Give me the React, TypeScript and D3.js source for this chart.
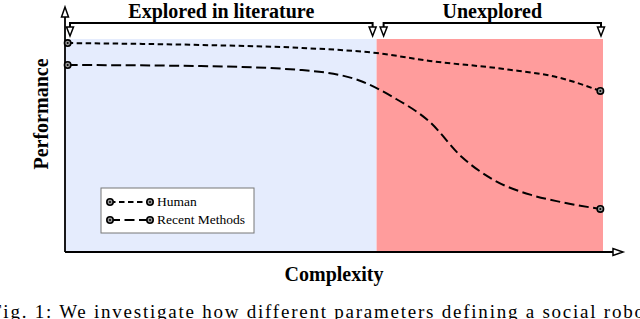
import React from "react";
import * as d3 from "d3";

// complexity (0-100) vs performance (0-100)
const humanX = [0, 25, 44, 58, 68, 82, 92.5, 100];
const humanPerf = [98.1, 97.2, 95.8, 93.4, 89.7, 85.9, 81.7, 75.6];
const recentX = [0, 25, 44, 55, 61, 68, 74, 80, 87, 92.5, 100];
const recentPerf = [87.8, 87.3, 85.4, 80.3, 72.8, 61.0, 44.6, 33.8, 26.8, 23.5, 20.2];

const regions = ["Explored in literature", "Unexplored"];
const regionBounds = [[-0.5, 58], [58, 100.5]];
const regionColors = ["#e5ecfd", "#ff9c9c"];
const seriesNames = ["Human", "Recent Methods"];
const seriesDash = ["5.5,3.5", "10,4.5"];

const W = 640;
const H = 319;
const serif =
  "'Times New Roman', Times, 'Liberation Serif', 'Nimbus Roman', 'Nimbus Roman No9 L', Tinos, 'DejaVu Serif', serif";

const App = () => {
  const x = d3.scaleLinear([-0.5, 100.5], [65, 603]);
  const y = d3.scaleLinear([0, 100], [252, 39]);
  const line = d3
    .line<[number, number]>()
    .x((d) => x(d[0]))
    .y((d) => y(d[1]))
    .curve(d3.curveMonotoneX);

  const series = [
    humanX.map((v, i) => [v, humanPerf[i]] as [number, number]),
    recentX.map((v, i) => [v, recentPerf[i]] as [number, number]),
  ];

  const marker = (cx: number, cy: number, key: string) => (
    <g key={key}>
      <circle cx={cx} cy={cy} r={3.2} fill="#999" stroke="#000" strokeWidth={1.6} />
      <circle cx={cx} cy={cy} r={1} fill="#000" />
    </g>
  );

  const downArrow = (ax: number, key: string) => (
    <path
      key={key}
      d={`M${ax - 3.5},27 L${ax + 3.5},27 L${ax},36 Z`}
      fill="#fff"
      stroke="#000"
      strokeWidth={1.5}
    />
  );

  const xAxisY = y(0);
  const yAxisX = x(-0.5);
  const txt = { fontFamily: serif };

  return (
    <svg
      width={W}
      height={H}
      style={{ position: "absolute", left: 0, top: 0, overflow: "hidden", background: "#fff" }}
    >
      {regionBounds.map((b, i) => (
        <rect
          key={i}
          x={x(b[0])}
          y={y(100)}
          width={x(b[1]) - x(b[0])}
          height={y(0) - y(100)}
          fill={regionColors[i]}
        />
      ))}

      {/* brackets */}
      {regionBounds.map((b, i) => {
        const l = x(b[0]) + (i === 0 ? 5 : 7);
        const r = x(b[1]) - (i === 0 ? 4 : 2);
        return (
          <g key={"br" + i}>
            <path d={`M${l},27 L${l},23 L${r},23 L${r},27`} fill="none" stroke="#000" strokeWidth={2} />
            {downArrow(l, "a" + i)}
            {downArrow(r, "b" + i)}
            <text
              x={(l + r) / 2}
              y={18}
              textAnchor="middle"
              style={txt}
              fontWeight="bold"
              fontSize={20}
            >
              {regions[i]}
            </text>
          </g>
        );
      })}

      {/* axes */}
      <line x1={yAxisX} y1={xAxisY} x2={yAxisX} y2={16} stroke="#000" strokeWidth={1.8} />
      <path
        d={`M${yAxisX - 3.5},17 L${yAxisX + 3.5},17 L${yAxisX},7 Z`}
        fill="#fff"
        stroke="#000"
        strokeWidth={1.5}
      />
      <line x1={yAxisX} y1={xAxisY} x2={613} y2={xAxisY} stroke="#000" strokeWidth={1.8} />
      <path
        d={`M613,${xAxisY - 3.5} L613,${xAxisY + 3.5} L623,${xAxisY} Z`}
        fill="#fff"
        stroke="#000"
        strokeWidth={1.5}
      />

      {series.map((s, i) => (
        <g key={"s" + i}>
          <path
            d={line(s) ?? ""}
            fill="none"
            stroke="#000"
            strokeWidth={2}
            strokeDasharray={seriesDash[i]}
          />
          {marker(x(s[0][0]), y(s[0][1]), "m0")}
          {marker(x(s[s.length - 1][0]), y(s[s.length - 1][1]), "m1")}
        </g>
      ))}

      {/* legend */}
      <rect x={101} y={188} width={153} height={45} fill="#fff" stroke="#777" strokeWidth={1} />
      {seriesNames.map((name, i) => {
        const ly = 202 + i * 18;
        return (
          <g key={"l" + i}>
            <line x1={110} y1={ly} x2={150} y2={ly} stroke="#000" strokeWidth={2} strokeDasharray={seriesDash[i]} />
            {marker(110, ly, "lm0")}
            {marker(150, ly, "lm1")}
            <text x={157} y={ly + 4} style={txt} fontSize={13.5}>
              {name}
            </text>
          </g>
        );
      })}

      <text
        transform={`translate(48,114) rotate(-90)`}
        textAnchor="middle"
        style={txt}
        fontWeight="bold"
        fontSize={20}
      >
        Performance
      </text>
      <text x={334} y={281} textAnchor="middle" style={txt} fontWeight="bold" fontSize={20}>
        Complexity
      </text>

      <text
        x={-9}
        y={318}
        style={txt}
        fontSize={19}
        textLength={660}
        lengthAdjust="spacing"
      >
        Fig. 1: We investigate how different parameters defining a social robot
      </text>
    </svg>
  );
};

export default App;
